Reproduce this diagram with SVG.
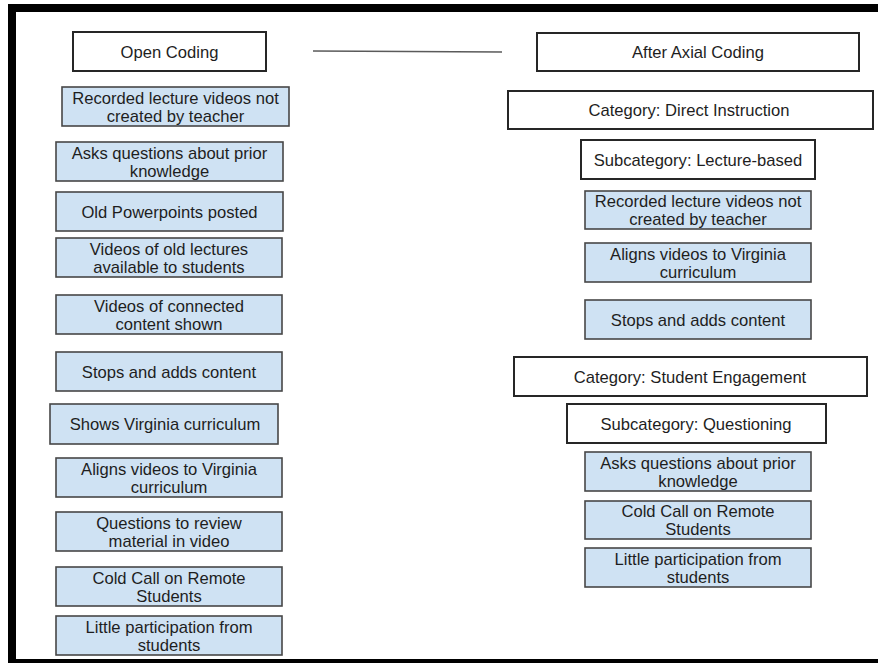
<svg xmlns="http://www.w3.org/2000/svg" width="878" height="663" viewBox="0 0 878 663">
<style>
.t{font-family:"Liberation Sans",Arial,sans-serif;font-size:16.6px;fill:#1e1e1e;text-anchor:middle}
.w{fill:#ffffff;stroke:#262626;stroke-width:2}
.b{fill:#cfe2f3;stroke:#474747;stroke-width:1.6}
.frame{fill:#000000}
.conn{stroke:#5a5a5a;stroke-width:1.3;fill:none}
</style>
<rect width="878" height="663" fill="#ffffff"/>
<g id="frame">
<rect class="frame" x="8" y="4" width="870" height="8"/>
<rect class="frame" x="8" y="4" width="8" height="659"/>
<rect class="frame" x="8" y="659" width="870" height="4"/>
</g>
<g id="connectors">
<line class="conn" x1="313" y1="51" x2="502" y2="52"/>
</g>
<g id="open-coding"><rect class="w" x="73" y="32" width="193" height="39"/><text class="t" x="169.5" y="57.5">Open Coding</text></g>
<g id="l-recorded"><rect class="b" x="62" y="87" width="227" height="39"/><text class="t" x="175.5" y="103.5">Recorded lecture videos not</text><text class="t" x="175.5" y="121.5">created by teacher</text></g>
<g id="l-asks"><rect class="b" x="56" y="142" width="227" height="39"/><text class="t" x="169.5" y="158.5">Asks questions about prior</text><text class="t" x="169.5" y="176.5">knowledge</text></g>
<g id="l-powerpoints"><rect class="b" x="56" y="192" width="227" height="39"/><text class="t" x="169.5" y="217.5">Old Powerpoints posted</text></g>
<g id="l-old-lectures"><rect class="b" x="56" y="238" width="226" height="39"/><text class="t" x="169" y="254.5">Videos of old lectures</text><text class="t" x="169" y="272.5">available to students</text></g>
<g id="l-connected"><rect class="b" x="56" y="295" width="226" height="39"/><text class="t" x="169" y="311.5">Videos of connected</text><text class="t" x="169" y="329.5">content shown</text></g>
<g id="l-stops"><rect class="b" x="56" y="352" width="226" height="39"/><text class="t" x="169" y="377.5">Stops and adds content</text></g>
<g id="l-shows-virginia"><rect class="b" x="50" y="404" width="228" height="40"/><text class="t" x="165" y="430">Shows Virginia curriculum</text></g>
<g id="l-aligns"><rect class="b" x="56" y="458" width="226" height="39"/><text class="t" x="169" y="474.5">Aligns videos to Virginia</text><text class="t" x="169" y="492.5">curriculum</text></g>
<g id="l-review"><rect class="b" x="56" y="512" width="226" height="39"/><text class="t" x="169" y="528.5">Questions to review</text><text class="t" x="169" y="546.5">material in video</text></g>
<g id="l-cold-call"><rect class="b" x="56" y="567" width="226" height="39"/><text class="t" x="169" y="583.5">Cold Call on Remote</text><text class="t" x="169" y="601.5">Students</text></g>
<g id="l-participation"><rect class="b" x="56" y="616" width="226" height="39"/><text class="t" x="169" y="632.5">Little participation from</text><text class="t" x="169" y="650.5">students</text></g>
<g id="axial-coding"><rect class="w" x="537" y="33" width="322" height="38"/><text class="t" x="698" y="58">After Axial Coding</text></g>
<g id="cat-direct"><rect class="w" x="508" y="91" width="365" height="38"/><text class="t" x="689" y="116">Category: Direct Instruction</text></g>
<g id="sub-lecture"><rect class="w" x="581" y="140" width="234" height="39"/><text class="t" x="698" y="165.5">Subcategory: Lecture-based</text></g>
<g id="r-recorded"><rect class="b" x="585" y="191" width="226" height="38"/><text class="t" x="698" y="207">Recorded lecture videos not</text><text class="t" x="698" y="225">created by teacher</text></g>
<g id="r-aligns"><rect class="b" x="585" y="243" width="226" height="39"/><text class="t" x="698" y="259.5">Aligns videos to Virginia</text><text class="t" x="698" y="277.5">curriculum</text></g>
<g id="r-stops"><rect class="b" x="585" y="300" width="226" height="39"/><text class="t" x="698" y="325.5">Stops and adds content</text></g>
<g id="cat-engagement"><rect class="w" x="514" y="357" width="353" height="39"/><text class="t" x="690" y="382.5">Category: Student Engagement</text></g>
<g id="sub-questioning"><rect class="w" x="567" y="404" width="259" height="39"/><text class="t" x="696" y="429.5">Subcategory: Questioning</text></g>
<g id="r-asks"><rect class="b" x="585" y="452" width="226" height="39"/><text class="t" x="698" y="468.5">Asks questions about prior</text><text class="t" x="698" y="486.5">knowledge</text></g>
<g id="r-cold-call"><rect class="b" x="585" y="501" width="226" height="38"/><text class="t" x="698" y="517">Cold Call on Remote</text><text class="t" x="698" y="535">Students</text></g>
<g id="r-participation"><rect class="b" x="585" y="548" width="226" height="39"/><text class="t" x="698" y="564.5">Little participation from</text><text class="t" x="698" y="582.5">students</text></g>
</svg>
